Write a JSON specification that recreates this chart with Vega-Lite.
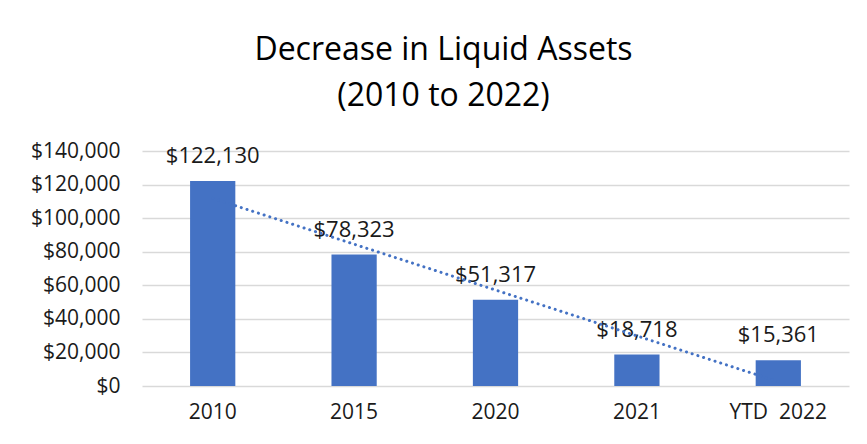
{
  "$schema": "https://vega.github.io/schema/vega-lite/v6.json",
  "autosize": {"type": "none"},
  "width": 707,
  "height": 235,
  "padding": {"left": 142, "top": 151, "right": 18, "bottom": 58},
  "background": "white",
  "config": {
    "view": {"stroke": null},
    "font": "Open Sans"
  },
  "title": {
    "text": ["Decrease in Liquid Assets", "(2010 to 2022)"],
    "fontSize": 32,
    "fontWeight": "normal",
    "font": "Open Sans",
    "color": "#000000",
    "lineHeight": 46,
    "anchor": "middle",
    "frame": "group",
    "dx": -52,
    "offset": 27
  },
  "data": {
    "values": [
      {"year": "2010", "idx": 1, "value": 122130},
      {"year": "2015", "idx": 2, "value": 78323},
      {"year": "2020", "idx": 3, "value": 51317},
      {"year": "2021", "idx": 4, "value": 18718},
      {"year": "YTD \u00a02022", "idx": 5, "value": 15361}
    ]
  },
  "encoding": {
    "y": {
      "field": "value", "type": "quantitative",
      "scale": {"domain": [0, 140000], "nice": false},
      "axis": {
        "title": null, "domain": false, "ticks": false, "labelOverlap": false,
        "values": [0, 20000, 40000, 60000, 80000, 100000, 120000, 140000],
        "labelFontSize": 21, "labelColor": "#1a1a1a", "labelPadding": 22,
        "labelFont": "Open Sans", "gridColor": "#d9d9d9", "gridWidth": 1.5,
        "format": "$,.0f"
      }
    }
  },
  "layer": [
    {
      "encoding": {
        "x": {
          "field": "year", "type": "nominal", "sort": null,
          "scale": {"paddingInner": 0.68, "paddingOuter": 0.34},
          "axis": {
            "title": null, "labelAngle": 0, "domain": false, "ticks": false,
            "labelFontSize": 21, "labelColor": "#1a1a1a", "labelPadding": 15,
            "labelFont": "Open Sans"
          }
        }
      },
      "layer": [
        {"mark": {"type": "bar", "color": "#4472C4"}},
        {
          "mark": {"type": "text", "baseline": "middle", "dy": -25, "fontSize": 22, "color": "#1a1a1a", "font": "Open Sans"},
          "encoding": {
            "text": {"field": "value", "type": "quantitative", "format": "$,.0f"}
          }
        }
      ]
    },
    {
      "transform": [{"regression": "value", "on": "idx"}],
      "mark": {"type": "line", "color": "#4472C4", "strokeWidth": 3, "strokeCap": "round", "strokeDash": [0.1, 5.9]},
      "encoding": {
        "x": {"field": "idx", "type": "quantitative", "scale": {"domain": [0.5, 5.5]}, "axis": null}
      }
    }
  ],
  "resolve": {"scale": {"x": "independent"}}
}
